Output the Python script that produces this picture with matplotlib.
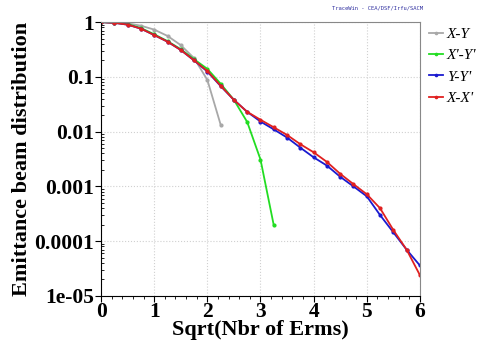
import matplotlib
matplotlib.use("Agg")
import matplotlib.pyplot as plt
from matplotlib.ticker import FixedLocator, MultipleLocator, LogLocator, NullFormatter

# sqrt(number of Erms) sampled every 0.25
x_xy = [0, 0.25, 0.5, 0.75, 1.0, 1.25, 1.5, 1.75, 2.0, 2.25]
y_xy = [1.0, 0.99, 0.95, 0.86, 0.73, 0.56, 0.38, 0.22, 0.088, 0.0134]

x_xpyp = [0, 0.25, 0.5, 0.75, 1.0, 1.25, 1.5, 1.75, 2.0, 2.25, 2.5, 2.75, 3.0, 3.25]
y_xpyp = [1.0, 0.98, 0.92, 0.78, 0.60, 0.45, 0.32, 0.21, 0.14, 0.075, 0.038, 0.015, 0.0031, 0.000195]

x_yyp = [0, 0.25, 0.5, 0.75, 1.0, 1.25, 1.5, 1.75, 2.0, 2.25, 2.5, 2.75,
         3.0, 3.25, 3.5, 3.75, 4.0, 4.25, 4.5, 4.75, 5.0, 5.25, 5.5, 5.75, 6.0]
y_yyp = [1.0, 0.97, 0.90, 0.76, 0.58, 0.44, 0.31, 0.20, 0.125, 0.068, 0.038, 0.023,
         0.0153, 0.011, 0.0078, 0.0051, 0.0034, 0.0024, 0.0015, 0.00100, 0.00066,
         0.00030, 0.000145, 0.00007, 0.000036]

x_xxp = x_yyp
y_xxp = [1.0, 0.97, 0.90, 0.76, 0.58, 0.44, 0.31, 0.20, 0.128, 0.069, 0.038, 0.023,
         0.0165, 0.0120, 0.0087, 0.0059, 0.0042, 0.0028, 0.0017, 0.00110, 0.00072,
         0.00040, 0.000160, 0.00007, 0.000024]

series = [
    (x_xy, y_xy, "#a8a8a8", "X-Y"),
    (x_xpyp, y_xpyp, "#22dd22", "X'-Y'"),
    (x_yyp, y_yyp, "#1a1ad0", "Y-Y'"),
    (x_xxp, y_xxp, "#e02020", "X-X'"),
]

yticks = [1, 0.1, 0.01, 0.001, 0.0001, 0.00001]
ylabels = ["1", "0.1", "0.01", "0.001", "0.0001", "1e-05"]

serif = ["Liberation Serif", "DejaVu Serif"]

fig = plt.figure(figsize=(4.86, 3.57), dpi=100)
ax = fig.add_axes([0.208, 0.171, 0.656, 0.767])

for xs, ys, c, lab in series:
    ax.plot(xs, ys, color=c, lw=1.3, marker="o", ms=2, label=lab)

ax.set_yscale("log")
ax.set_xlim(0, 6)
ax.set_ylim(1e-5, 1)
ax.xaxis.set_major_locator(MultipleLocator(1))
ax.xaxis.set_minor_locator(MultipleLocator(0.2))
ax.yaxis.set_major_locator(FixedLocator(yticks))
ax.yaxis.set_minor_locator(LogLocator(base=10, subs=range(2, 10)))
ax.yaxis.set_minor_formatter(NullFormatter())
ax.set_yticklabels(ylabels)
ax.tick_params(which="major", direction="out", length=4, labelsize=15.5, pad=1)
ax.tick_params(axis="x", which="major", pad=0)
ax.tick_params(axis="y", which="minor", direction="in", length=2.5)
ax.tick_params(axis="x", which="minor", direction="out", length=2)
for t in ax.get_xticklabels() + ax.get_yticklabels():
    t.set_family(serif)
    t.set_fontweight("bold")

ax.grid(True, which="major", color="#d0d0d0", ls=":", lw=0.8)
for s in ("top", "right"):
    ax.spines[s].set_color("#888888")

ax.set_xlabel("Sqrt(Nbr of Erms)", family=serif, fontweight="bold", fontsize=16, labelpad=-1)
ax.set_ylabel("Emittance beam distribution", family=serif, fontweight="bold", fontsize=16, labelpad=2)

leg = ax.legend(loc="upper left", bbox_to_anchor=(1.0, 1.015), frameon=False,
                handlelength=0.9, handletextpad=0.25, labelspacing=0.5,
                borderaxespad=0.2, markerscale=0.8,
                prop={"family": serif, "style": "italic", "size": 11})

fig.text(0.87, 0.978, "TraceWin - CEA/DSF/Irfu/SACM", color="#3030a0",
         fontsize=4, family="DejaVu Sans Mono", ha="right", va="center")

fig.savefig("out.png", dpi=100, facecolor="white")
